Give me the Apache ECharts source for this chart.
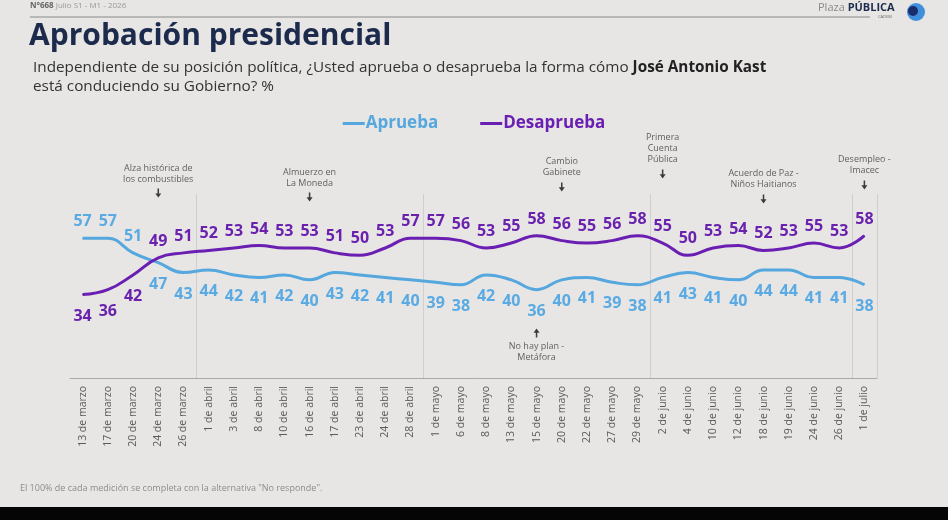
<!DOCTYPE html>
<html lang="es">
<head>
<meta charset="UTF-8">
<title>Aprobación presidencial</title>
<script src="https://cdn.jsdelivr.net/npm/echarts@6/dist/echarts.min.js"></script>
<style>
html,body{margin:0;padding:0;background:#e7e6e5;}
#main{width:948px;height:520px;}
</style>
</head>
<body>
<div id="main"></div>
<script>
var fechas = ['13 de marzo','17 de marzo','20 de marzo','24 de marzo','26 de marzo',
  '1 de abril','3 de abril','8 de abril','10 de abril','16 de abril','17 de abril','23 de abril','24 de abril','28 de abril',
  '1 de mayo','6 de mayo','8 de mayo','13 de mayo','15 de mayo','20 de mayo','22 de mayo','27 de mayo','29 de mayo',
  '2 de junio','4 de junio','10 de junio','12 de junio','18 de junio','19 de junio','24 de junio','26 de junio',
  '1 de julio'];
var aprueba    = [57,57,51,47,43,44,42,41,42,40,43,42,41,40,39,38,42,40,36,40,41,39,38,41,43,41,40,44,44,41,41,38];
var desaprueba = [34,36,42,49,51,52,53,54,53,53,51,50,53,57,57,56,53,55,58,56,55,56,58,55,50,53,54,52,53,55,53,58];

// inicio de cada mes (indice de fecha) -> linea vertical
var cortesMes = [5, 14, 23, 31];

// hitos: indice de fecha, altura en puntos del eje, texto
var hitosArriba = [
  {idx: 3,  y: 75.4, texto: 'Alza histórica de\nlos combustibles'},
  {idx: 9,  y: 73.8, texto: 'Almuerzo en\nLa Moneda'},
  {idx: 19, y: 77.9, texto: 'Cambio\nGabinete'},
  {idx: 23, y: 83.2, texto: 'Primera\nCuenta\nPública'},
  {idx: 27, y: 73.0, texto: 'Acuerdo de Paz -\nNiños Haitianos'},
  {idx: 31, y: 78.7, texto: 'Desempleo -\nImacec'}
];
var hitosAbajo = [
  {idx: 18, y: 18.3, texto: 'No hay plan -\nMetáfora'}
];

var azul = '#55a7de', morado = '#6a1fb2';
var fuente = 'Open Sans';
var flecha = 'path://M3,0 L5,0 L5,6 L8,6 L4,11 L0,6 L3,6 Z';

var myChart = echarts.init(document.getElementById('main'));

// la etiqueta va por encima de la linea que queda arriba y por debajo de la otra
function conEtiquetas(serie, otra) {
  return serie.map(function (v, i) {
    var arriba = v > otra[i];
    return {value: v, label: {position: arriba ? 'top' : 'bottom', distance: arriba ? 8 : 13}};
  });
}

var option = {
  backgroundColor: '#e7e6e5',
  animation: false,
  textStyle: {fontFamily: fuente},
  legend: {
    top: 110,
    left: 'center',
    icon: 'rect',
    itemWidth: 22,
    itemHeight: 3,
    itemGap: 42,
    selectedMode: false,
    textStyle: {fontSize: 17, fontWeight: 'bold', fontFamily: fuente, padding: [0, 0, 0, -4]},
    data: [
      {name: 'Aprueba', textStyle: {color: azul}},
      {name: 'Desaprueba', textStyle: {color: morado}}
    ]
  },
  grid: {left: 70, right: 71, top: 194, bottom: 142},
  xAxis: {
    type: 'category',
    data: fechas,
    boundaryGap: true,
    axisLine: {lineStyle: {color: '#a9a9a9'}},
    axisTick: {interval: 0, length: 4, lineStyle: {color: '#a9a9a9'}},
    axisLabel: {interval: 0, rotate: 90, color: '#5a5a5a', fontSize: 10.5, margin: 8, fontFamily: fuente},
    splitLine: {
      show: true,
      interval: function (index) { return cortesMes.indexOf(index) >= 0; },
      lineStyle: {color: '#cfcfcf', width: 1}
    }
  },
  yAxis: {type: 'value', min: 0, max: 75, show: false},
  series: [
    {
      name: 'Aprueba',
      type: 'line',
      data: conEtiquetas(aprueba, desaprueba),
      smooth: 0.45,
      showSymbol: true,
      symbol: 'circle',
      symbolSize: 1,
      color: azul,
      itemStyle: {color: azul},
      lineStyle: {width: 3, color: azul},
      label: {show: true, color: '#5aaae3', fontSize: 16, fontWeight: 'bold', fontFamily: fuente},
      emphasis: {disabled: true}
    },
    {
      name: 'Desaprueba',
      type: 'line',
      data: conEtiquetas(desaprueba, aprueba),
      smooth: 0.45,
      showSymbol: true,
      symbol: 'circle',
      symbolSize: 1,
      color: morado,
      itemStyle: {color: morado},
      lineStyle: {width: 3, color: morado},
      label: {show: true, color: '#6a22ae', fontSize: 16, fontWeight: 'bold', fontFamily: fuente},
      emphasis: {disabled: true}
    },
    {
      name: 'hitos',
      type: 'scatter',
      clip: false,
      symbol: flecha,
      symbolSize: [6, 9],
      itemStyle: {color: '#111'},
      data: hitosArriba.map(function (h) { return {value: [h.idx, h.y], name: h.texto}; }),
      label: {
        show: true, position: 'top', distance: 4, formatter: '{b}',
        color: '#3c3c3c', fontSize: 9, lineHeight: 11, align: 'center', fontFamily: fuente
      },
      emphasis: {disabled: true}
    },
    {
      name: 'hitos abajo',
      type: 'scatter',
      clip: false,
      symbol: flecha,
      symbolRotate: 180,
      symbolSize: [6, 9],
      itemStyle: {color: '#111'},
      data: hitosAbajo.map(function (h) { return {value: [h.idx, h.y], name: h.texto}; }),
      label: {
        show: true, position: 'bottom', distance: 3, formatter: '{b}',
        color: '#3c3c3c', fontSize: 9, lineHeight: 11, align: 'center', fontFamily: fuente
      },
      emphasis: {disabled: true}
    }
  ],
  graphic: [
    {type: 'text', left: 30, top: 2, style: {
      text: '{b|N°668} Julio S1 - M1 - 2026',
      rich: {b: {fontWeight: 'bold', fill: '#666', fontSize: 8, fontFamily: fuente}},
      fill: '#999', fontSize: 8, fontFamily: fuente}},
    {type: 'line', shape: {x1: 30, y1: 17, x2: 870, y2: 17}, style: {stroke: '#8a8a8a', lineWidth: 1}},
    {type: 'text', left: 818, top: 2, style: {
      text: 'Plaza {b|PÚBLICA}',
      rich: {b: {fontWeight: 'bold', fill: '#1c2b4b', fontSize: 11, fontFamily: fuente}},
      fill: '#8a8a8a', fontSize: 11, fontFamily: fuente}},
    {type: 'text', left: 878, top: 15, style: {text: 'CADEM', fill: '#666', fontSize: 4, fontFamily: fuente}},
    {type: 'circle', shape: {cx: 916, cy: 12, r: 9}, style: {fill: '#3f8fdc'}},
    {type: 'circle', shape: {cx: 913, cy: 11, r: 5}, style: {fill: '#1c2b6b'}},
    {type: 'text', left: 29, top: 21, style: {
      text: 'Aprobación presidencial', fill: '#1c2a4c', fontSize: 30, fontWeight: 'bold', fontFamily: fuente}},
    {type: 'text', left: 33, top: 58, style: {
      text: 'Independiente de su posición política, ¿Usted aprueba o desaprueba la forma cómo {b|José Antonio Kast}\nestá conduciendo su Gobierno? %',
      rich: {b: {fontWeight: 'bold', fill: '#222', fontSize: 15.3, fontFamily: fuente}},
      fill: '#333', fontSize: 15.3, lineHeight: 19, fontFamily: fuente}},
    {type: 'text', left: 20, top: 484, style: {
      text: 'El 100% de cada medición se completa con la alternativa "No responde".',
      fill: '#8c8c8c', fontSize: 9, fontFamily: fuente}},
    {type: 'rect', shape: {x: 0, y: 507, width: 948, height: 13}, style: {fill: '#050505'}}
  ]
};

myChart.setOption(option);
</script>
</body>
</html>
